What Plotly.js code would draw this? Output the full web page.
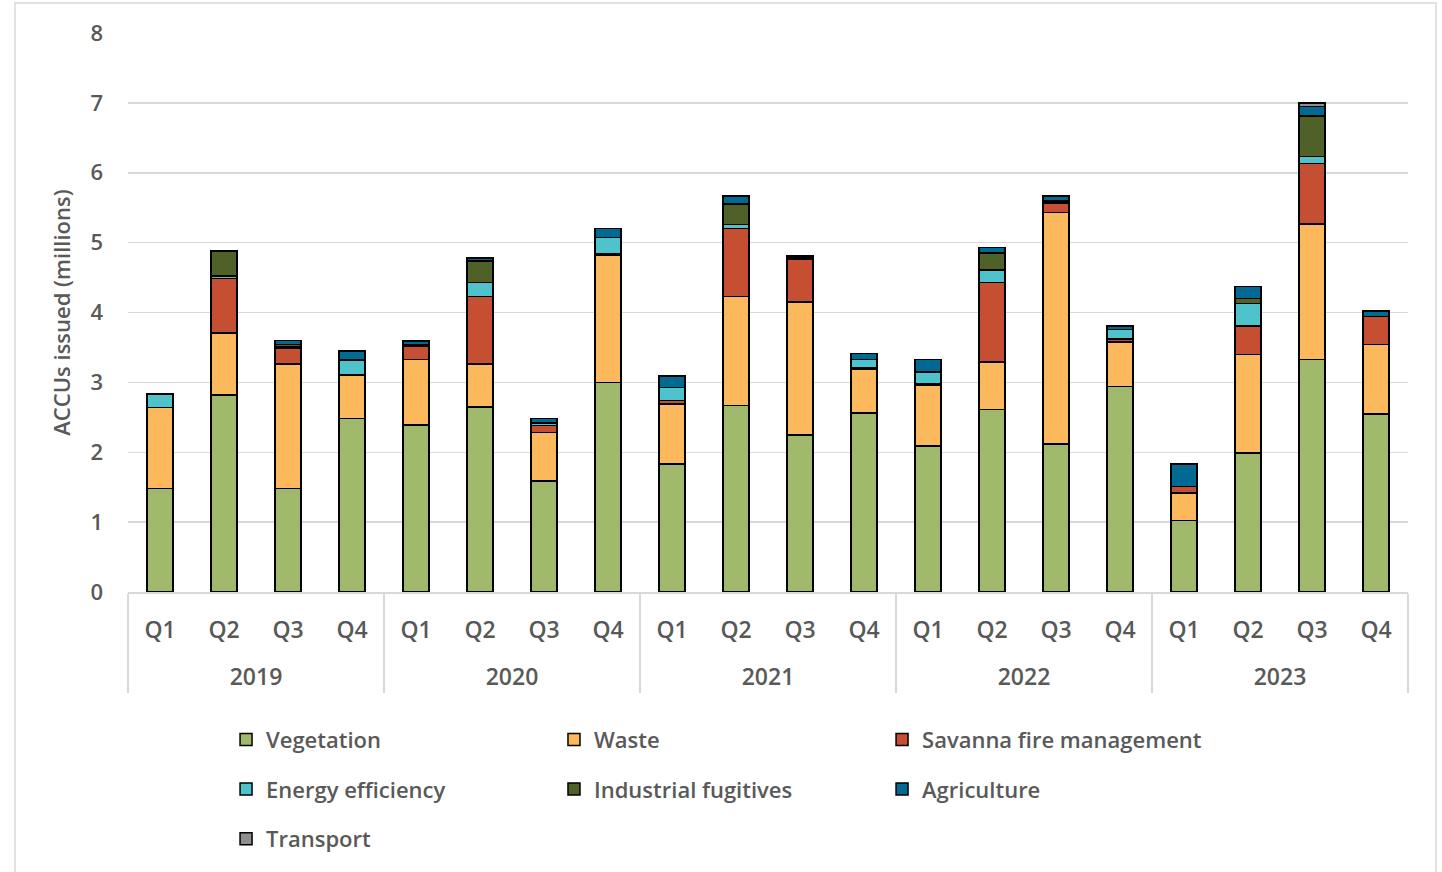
<!DOCTYPE html>
<html>
<head>
<meta charset="utf-8">
<script src="https://cdn.plot.ly/plotly-3.0.1.min.js"></script>
<style>html,body{margin:0;padding:0;background:#fff;}#chart{width:1442px;height:872px;}</style>
</head>
<body>
<div id="chart"></div>
<script>
const years = ['2019','2019','2019','2019','2020','2020','2020','2020','2021','2021','2021','2021','2022','2022','2022','2022','2023','2023','2023','2023'];
const quarters = ['Q1','Q2','Q3','Q4','Q1','Q2','Q3','Q4','Q1','Q2','Q3','Q4','Q1','Q2','Q3','Q4','Q1','Q2','Q3','Q4'];

const vegetation = [1.48,2.82,1.48,2.48, 2.39,2.65,1.59,3.00, 1.83,2.67,2.25,2.56, 2.09,2.61,2.12,2.94, 1.02,1.99,3.33,2.55];
const waste      = [1.16,0.89,1.78,0.62, 0.94,0.61,0.69,1.82, 0.86,1.56,1.90,0.63, 0.87,0.68,3.31,0.64, 0.40,1.41,1.94,0.99];
const savanna    = [0.00,0.78,0.23,0.01, 0.19,0.97,0.10,0.02, 0.05,0.97,0.61,0.02, 0.02,1.14,0.13,0.04, 0.09,0.41,0.86,0.40];
const energy     = [0.19,0.03,0.02,0.21, 0.02,0.20,0.03,0.23, 0.19,0.06,0.00,0.12, 0.17,0.18,0.02,0.14, 0.00,0.32,0.10,0.00];
const industrial = [0.00,0.35,0.03,0.00, 0.00,0.31,0.01,0.00, 0.00,0.29,0.02,0.00, 0.00,0.24,0.02,0.00, 0.00,0.07,0.58,0.00];
const agriculture= [0.01,0.01,0.06,0.13, 0.05,0.04,0.06,0.13, 0.16,0.12,0.03,0.08, 0.18,0.08,0.07,0.05, 0.32,0.17,0.14,0.08];
const transport  = [0,0,0,0, 0,0,0,0, 0,0,0,0, 0,0,0,0, 0,0,0.05,0];

const seriesNames = ['Vegetation','Waste','Savanna fire management','Energy efficiency','Industrial fugitives','Agriculture','Transport'];
const seriesData = [vegetation, waste, savanna, energy, industrial, agriculture, transport];
const seriesColors = ['#9FB86B','#FBB85C','#C44F32','#4FC3CB','#4F6129','#006994','#8F8F8F'];
const seriesLegend = ['legend','legend2','legend3','legend','legend2','legend3','legend'];

const FONT = 'Open Sans, sans-serif';
const GREY = '#595959';

// year labels drawn one line lower to match the reference spacing
const yearLabels = years.map(y => '<br>' + y);

const traces = seriesNames.map((n, i) => ({
  type: 'bar',
  name: n,
  x: [yearLabels, quarters],
  y: seriesData[i],
  marker: {color: seriesColors[i], line: {color: '#000', width: 1.5}},
  legend: seriesLegend[i],
  legendgroup: 'g' + i,
  hoverinfo: 'y+name'
}));

const legendBase = (x) => ({
  orientation: 'v', x: x, xanchor: 'left', y: -0.2266, yanchor: 'top',
  font: {family: FONT, size: 22, color: GREY, weight: 600},
  tracegroupgap: 18, bgcolor: 'rgba(0,0,0,0)', itemwidth: 30
});

const layout = {
  width: 1442, height: 872,
  margin: {l: 128, r: 34, t: 33, b: 280},
  paper_bgcolor: '#fff', plot_bgcolor: '#fff',
  barmode: 'stack', bargap: 0.59,
  font: {family: FONT, color: GREY},
  xaxis: {
    type: 'multicategory',
    showdividers: true, dividercolor: '#d9d9d9', dividerwidth: 1.5,
    showline: true, linecolor: '#d9d9d9', linewidth: 1.5,
    ticklabelstandoff: 17,
    tickfont: {family: FONT, size: 23, color: GREY, weight: 600},
    showgrid: false, zeroline: false
  },
  yaxis: {
    range: [0, 8], dtick: 1, tick0: 0,
    showgrid: true, gridcolor: '#d9d9d9', gridwidth: 1.5,
    zeroline: false, showline: false, ticks: '',
    ticklabelstandoff: 24,
    tickfont: {family: FONT, size: 22, color: GREY, weight: 600},
    title: {text: 'ACCUs issued (millions)', font: {family: FONT, size: 22, color: GREY, weight: 600}, standoff: 13},
    automargin: false
  },
  legend: legendBase(0.0766),
  legend2: legendBase(0.3328),
  legend3: legendBase(0.5891),
  shapes: [{
    type: 'rect', xref: 'paper', yref: 'paper',
    x0: -0.0883, x1: 1.0219, y0: -0.52, y1: 1.0537,
    line: {color: '#d9d9d9', width: 1.5}, fillcolor: 'rgba(0,0,0,0)', layer: 'below'
  }],
  showlegend: true
};

Plotly.newPlot('chart', traces, layout, {displayModeBar: false, staticPlot: true});
</script>
</body>
</html>
